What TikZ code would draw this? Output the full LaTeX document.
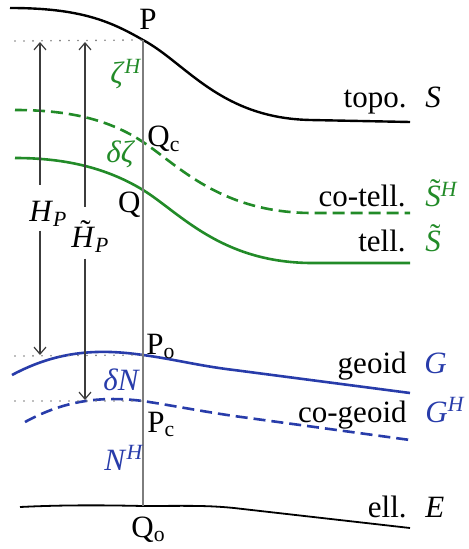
\documentclass[tikz,border=0pt]{standalone}
\usepackage{fontspec}
\setmainfont{Liberation Serif}
\definecolor{tellgreen}{RGB}{34,139,40}
\definecolor{geoblue}{RGB}{40,60,170}
\definecolor{plumbgray}{RGB}{125,125,125}
\definecolor{darkgray}{RGB}{60,60,60}
\usetikzlibrary{arrows.meta}
\newcommand{\wavy}[1]{\leavevmode\setbox0\hbox{#1}%
  \rlap{\hbox to\wd0{\hss\raisebox{0.2em}{\kern0.14em ˜}\hss}}\box0}

\begin{document}
\begin{tikzpicture}[x=0.5pt, y=-0.5pt,
  surf/.style={line width=1.2pt},
  dashsurf/.style={line width=1.3pt, dash pattern=on 6pt off 3pt},
  plumb/.style={plumbgray, line width=0.7pt},
  level/.style={plumbgray, line width=0.9pt, dash pattern=on 0pt off 4.5pt,
    line cap=round},
  hgt/.style={darkgray, line width=0.6pt, >={Straight Barb[length=3.5pt, width=6pt]}},
  lbl/.style={font=\fontsize{15.5}{18}\selectfont, inner sep=0pt},
]
\useasboundingbox (0,0) rectangle (468,549);

\coordinate (P) at (143,40);
\coordinate (Qc) at (143,142);
\coordinate (Q) at (143,190);
\coordinate (Po) at (143,355);
\coordinate (Pc) at (143,401);
\coordinate (Qo) at (143,506);

\draw[surf] (10,8) .. controls (80,8) and (110,21) .. (P)
  .. controls (186,63) and (220,118) .. (310,120) -- (410,122);
\draw[dashsurf, tellgreen] (15,110) .. controls (70,110) and (110,120) .. (Qc)
  .. controls (179,166) and (220,212) .. (310,213) -- (410,213);
\draw[surf, tellgreen, line width=1.3pt] (15,158) .. controls (70,158) and (110,170) .. (Q)
  .. controls (179,212) and (220,262) .. (310,263) -- (410,263);
\draw[surf, geoblue, line width=1.3pt] (12,375) .. controls (55,352) and (95,348) .. (Po)
  .. controls (173,359) and (200,366) .. (234,370) -- (410,393);
\draw[dashsurf, geoblue] (25,422) .. controls (60,403) and (95,395) .. (Pc)
  .. controls (175,406) and (200,411) .. (234,416) -- (410,440);
\draw[surf, line width=0.9pt] (20,507) .. controls (60,505) and (100,505) .. (Qo)
  .. controls (180,506) and (205,505) .. (234,508) -- (410,528);

\draw[plumb] (P) -- (Qo);

\coordinate (lvlP) at (15,41);
\coordinate (lvlPo) at (15,356);
\coordinate (lvlPc) at (15,401);
\draw[level] (lvlP) -- (P);
\draw[level] (lvlPo) -- (Po);
\draw[level] (lvlPc) -- (Pc);

\node[lbl, anchor=base west] (pP) at (139,30) {P};
\node[lbl, anchor=base west, tellgreen] (zetaH) at (110,84) {\textit{ζ}\textsuperscript{\textit{H}}};
\node[lbl, anchor=base west] (pQc) at (147,147) {Q\textsubscript{c}};
\node[lbl, anchor=base west, tellgreen] (dzeta) at (106,163) {\textit{δζ}};
\node[lbl, anchor=base east] (pQ) at (141,213) {Q};
\node[lbl, anchor=base west] (pPo) at (146,354) {P\textsubscript{o}};
\node[lbl, anchor=base west, geoblue] (dN) at (103,390) {\textit{δN}};
\node[lbl, anchor=base west] (pPc) at (147,432) {P\textsubscript{c}};
\node[lbl, anchor=base west, geoblue] (NH) at (104,470) {\textit{N}\textsuperscript{\textit{H}}};
\node[lbl, anchor=base west] (pQo) at (131,537) {Q\textsubscript{o}};

\coordinate (HPtop) at (40,42);
\coordinate (HPbot) at (40,355);
\coordinate (HTtop) at (85,42);
\coordinate (HTbot) at (85,400);
\node[lbl, anchor=base west] (HP) at (29,222) {\textit{H}\textsubscript{\textit{P}}};
\node[lbl, anchor=base west] (HT) at (71,248) {\wavy{\textit{H}}\textsubscript{\textit{P}}};
\draw[hgt, <-] (HPtop) -- ([yshift=8pt]HPtop |- HP.north);
\draw[hgt, ->] ([yshift=-2pt]HPtop |- HP.south) -- (HPbot);
\draw[hgt, <-] (HTtop) -- ([yshift=7pt]HTtop |- HT.north);
\draw[hgt, ->] ([yshift=-3pt]HTtop |- HT.south) -- (HTbot);

\node[lbl, anchor=base east] (wS) at (407,108) {topo.};
\node[lbl, anchor=base west] (sS) at (425,108) {\textit{S}};
\node[lbl, anchor=base east] (wSH) at (406,207) {co-tell.};
\node[lbl, anchor=base west, tellgreen] (sSH) at (425,207) {\wavy{\textit{S}}\textsuperscript{\textit{H}}};
\node[lbl, anchor=base east] (wSt) at (406,252) {tell.};
\node[lbl, anchor=base west, tellgreen] (sSt) at (425,252) {\wavy{\textit{S}}};
\node[lbl, anchor=base east] (wG) at (407,373) {geoid};
\node[lbl, anchor=base west, geoblue] (sG) at (424,373) {\textit{G}};
\node[lbl, anchor=base east] (wGH) at (407,422) {co-geoid};
\node[lbl, anchor=base west, geoblue] (sGH) at (425,422) {\textit{G}\textsuperscript{\textit{H}}};
\node[lbl, anchor=base east] (wE) at (407,517) {ell.};
\node[lbl, anchor=base west] (sE) at (425,517) {\textit{E}};
\end{tikzpicture}
\end{document}
